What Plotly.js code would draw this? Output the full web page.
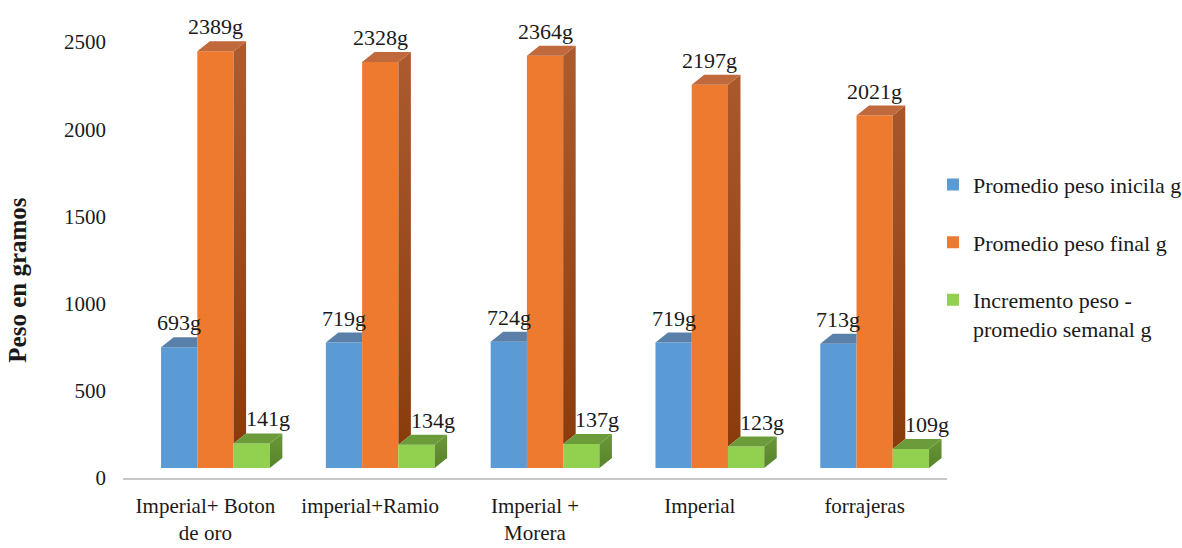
<!DOCTYPE html>
<html>
<head>
<meta charset="utf-8">
<script src="https://cdn.plot.ly/plotly-3.0.1.min.js"></script>
<style>html,body{margin:0;padding:0;background:#fff}#chart{width:1182px;height:548px}</style>
</head>
<body>
<div id="chart"></div>
<script>
// ---- data ----
const categories = ["Imperial+ Boton<br>de oro", "imperial+Ramio", "Imperial +<br>Morera", "Imperial", "forrajeras"];
const seriesNames = ["Promedio peso inicila g", "Promedio peso final g", "Incremento peso -<br>promedio semanal g"];
const pesoInicial = [693, 719, 724, 719, 713];
const pesoFinal = [2389, 2328, 2364, 2197, 2021];
const incremento = [141, 134, 137, 123, 109];
const yTicks = [0, 500, 1000, 1500, 2000, 2500];

// ---- style ----
const FONT = "Liberation Serif, Times New Roman, serif";
const TXT = "#1a1a1a";
const frontColors = ["#5b9bd5", "#ee7a30", "#92d050"];
const topColors = ["#5a80aa", "#c0693c", "#6c9c3a"];
const sideScales = [
  [[0, "#3f6f9e"], [1, "#5a84b0"]],
  [[0, "#8a3b0c"], [1, "#ad5c30"]],
  [[0, "#58842b"], [1, "#6a9838"]]
];
const labelXShift = [0, 0, 16];

const plotH = 458, plotW = 824;
const yMax = 2626;
const pxPerUnit = plotH / yMax;
const floorOffset = 10 / pxPerUnit;      // bars float 10px above the axis
const W = 0.22;                           // bar width (x units)
const SHIFT = 0.061;                      // 3D shift of the group
const DX = 12.5 / (plotW / 5);            // depth in x units
const DY = 10 / pxPerUnit;                // depth in y units

const S = [pesoInicial, pesoFinal, incremento];
const idx = categories.map((_, i) => i);

const traces = [];
// anchor trace so the value axis (with its tick labels) is drawn
traces.push({
  type: "scatter", mode: "none", x: [idx[0]], y: [yTicks[0]],
  xaxis: "x", yaxis: "y", showlegend: false, hoverinfo: "skip"
});
// front faces (bars)
S.forEach((vals, s) => {
  traces.push({
    type: "bar",
    x: idx.map(i => i + SHIFT + (s - 1) * W),
    y: vals,
    width: W,
    yaxis: "y2",
    name: seriesNames[s],
    legendgroup: "g" + s,
    marker: { color: frontColors[s], line: { width: 0 } },
    hoverinfo: "skip"
  });
});

// top and side faces
S.forEach((vals, s) => {
  const tx = [], ty = [], sx = [], sy = [];
  vals.forEach((v, i) => {
    const xl = i + SHIFT + (s - 1) * W - W / 2;
    const xr = xl + W;
    const vn = s < S.length - 1 ? S[s + 1][i] : 0;
    if (vn >= v) {
      tx.push(xl, xr, xr, xl + DX, xl, null);
      ty.push(v, v, v + DY, v + DY, v, null);
    } else {
      tx.push(xl, xr, xr + DX, xl + DX, xl, null);
      ty.push(v, v, v + DY, v + DY, v, null);
      sx.push(xr, xr, xr + DX, xr + DX, xr, null);
      sy.push(vn, v, v + DY, vn + DY, vn, null);
    }
  });
  if (sx.length) {
    traces.push({
      type: "scatter", mode: "lines", x: sx, y: sy, yaxis: "y2",
      fill: "toself", line: { width: 0 },
      fillgradient: { type: "vertical", colorscale: sideScales[s] },
      showlegend: false, hoverinfo: "skip"
    });
  }
  traces.push({
    type: "scatter", mode: "lines", x: tx, y: ty, yaxis: "y2",
    fill: "toself", fillcolor: topColors[s], line: { width: 0 },
    showlegend: false, hoverinfo: "skip"
  });
});

// value labels
const annotations = [];
S.forEach((vals, s) => {
  vals.forEach((v, i) => {
    annotations.push({
      x: i + SHIFT + (s - 1) * W, xref: "x",
      y: v + DY, yref: "y2",
      text: v + "g", showarrow: false,
      yanchor: "bottom", xanchor: "center",
      xshift: labelXShift[s], yshift: 0,
      font: { family: FONT, size: 22, color: TXT }
    });
  });
});
annotations.push({
  text: "<b>Peso en gramos</b>", xref: "paper", yref: "paper",
  x: -0.128, y: 0.432, xanchor: "center", yanchor: "middle",
  textangle: -90, showarrow: false,
  font: { family: FONT, size: 25, color: TXT }
});

const layout = {
  width: 1182, height: 548,
  margin: { l: 123, r: 235, t: 20, b: 70, pad: 0, autoexpand: false },
  paper_bgcolor: "#ffffff", plot_bgcolor: "#ffffff",
  barmode: "overlay",
  showlegend: true,
  font: { family: FONT, size: 21, color: TXT },
  xaxis: {
    range: [-0.5, 4.5],
    tickvals: idx, ticktext: categories,
    showgrid: false, zeroline: false,
    showline: true, linecolor: "#c8c8c8", linewidth: 1.5,
    ticks: "", ticklabelstandoff: 8,
    tickfont: { family: FONT, size: 21, color: TXT },
    fixedrange: true
  },
  yaxis: {
    range: [0, yMax],
    tickvals: yTicks,
    showgrid: false, zeroline: false, showline: false,
    ticks: "", ticklabelstandoff: 16,
    tickfont: { family: FONT, size: 21, color: TXT },
    fixedrange: true
  },
  yaxis2: {
    overlaying: "y",
    range: [-floorOffset, yMax - floorOffset],
    visible: false, fixedrange: true
  },
  legend: {
    x: 0.983, xanchor: "left", y: 0.686, yanchor: "top",
    font: { family: FONT, size: 22, color: TXT },
    tracegroupgap: 26, valign: "top",
    itemwidth: 30, traceorder: "grouped",
    bgcolor: "rgba(0,0,0,0)"
  },
  annotations: annotations
};

Plotly.newPlot("chart", traces, layout, { displayModeBar: false, staticPlot: true });
</script>
</body>
</html>
